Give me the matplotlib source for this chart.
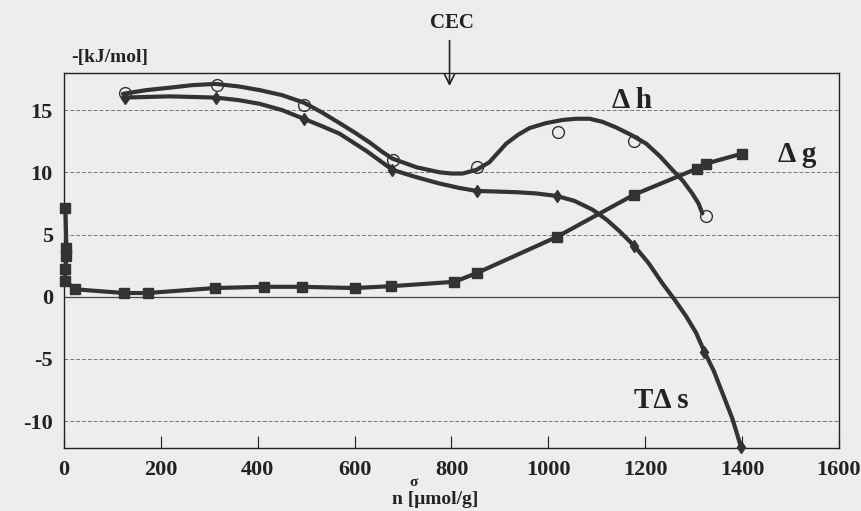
import numpy as np
import matplotlib.pyplot as plt

plt.rcParams['font.family'] = ['Liberation Serif', 'DejaVu Serif']
plt.rcParams['font.weight'] = 'bold'

# Delta h: measured points (open circles) and the drawn smooth curve
dh_x = [126, 315, 495, 679, 853, 1019, 1177, 1325]
dh_y = [16.4, 17.0, 15.4, 11.0, 10.4, 13.2, 12.5, 6.5]
dh_curve_x = [122, 170, 219, 265, 313, 360, 404, 450, 495, 533, 569, 600,
              631, 655, 678, 728, 775, 800, 823, 852, 878, 913, 937, 961,
              995, 1029, 1057, 1085, 1112, 1140, 1171, 1202, 1230, 1256,
              1278, 1297, 1310, 1318]
dh_curve_y = [16.3, 16.6, 16.8, 17.0, 17.1, 16.9, 16.6, 16.2, 15.6, 14.8,
              13.95, 13.2, 12.4, 11.7, 11.1, 10.4, 10.0, 9.9, 9.9, 10.2,
              10.8, 12.3, 13.0, 13.55, 13.95, 14.2, 14.3, 14.3, 14.05, 13.6,
              13.0, 12.3, 11.3, 10.2, 9.3, 8.3, 7.5, 6.7]

# T Delta s: points and curve
ts_x = [126, 313, 495, 678, 852, 1017, 1177, 1322, 1398]
ts_y = [16.0, 16.0, 14.3, 10.2, 8.5, 8.1, 4.1, -4.4, -12.1]
ts_curve_x = [122, 219, 313, 360, 404, 450, 495, 533, 569, 625, 678, 728,
              775, 815, 852, 895, 934, 975, 1017, 1054, 1091, 1120, 1146,
              1177, 1207, 1235, 1260, 1285, 1305, 1322, 1342, 1359, 1380,
              1398]
ts_curve_y = [16.0, 16.1, 16.0, 15.8, 15.5, 15.0, 14.3, 13.7, 13.1, 11.7,
              10.2, 9.6, 9.1, 8.75, 8.5, 8.45, 8.4, 8.3, 8.1, 7.7, 7.0,
              6.2, 5.3, 4.1, 2.7, 1.1, -0.2, -1.6, -2.9, -4.4, -6.0, -7.7,
              -9.8, -12.1]

# Delta g: filled squares
dg_x = [3, 5, 5, 3, 2, 23, 124, 173, 311, 412, 491, 600, 676, 806, 852,
        1017, 1177, 1307, 1326, 1400]
dg_y = [7.1, 3.9, 3.3, 2.2, 1.3, 0.6, 0.3, 0.3, 0.7, 0.8, 0.8, 0.7, 0.85,
        1.2, 1.9, 4.8, 8.2, 10.3, 10.7, 11.5]

x_ticks = [0, 200, 400, 600, 800, 1000, 1200, 1400, 1600]
y_ticks = [-10, -5, 0, 5, 10, 15]

ink = '#333333'
bg = '#ededed'

fig = plt.figure(figsize=(8.62, 5.11), dpi=100, facecolor=bg)
ax = fig.add_axes([0.0742, 0.1233, 0.8991, 0.7337])
ax.set_facecolor(bg)
ax.set_xlim(0, 1600)
ax.set_ylim(-12.15, 17.97)

# grid lines
for yv in y_ticks:
    if yv == 0:
        ax.axhline(0, color='#444444', lw=0.9, zorder=1)
    else:
        ax.axhline(yv, color='#777777', lw=0.7, ls=(0, (4, 2)), zorder=1)

ax.plot(dh_curve_x, dh_curve_y, color=ink, lw=3.0, solid_capstyle='round',
        solid_joinstyle='round', zorder=3)
ax.plot(dh_x, dh_y, 'o', ms=8.5, mfc='none', mec=ink, mew=1.0, zorder=4)

ax.plot(ts_curve_x, ts_curve_y, color=ink, lw=3.0, solid_capstyle='round',
        solid_joinstyle='round', zorder=3, clip_on=False)
ax.plot(ts_x, ts_y, 'd', ms=6, color=ink, zorder=4, clip_on=False)

ax.plot(dg_x, dg_y, '-s', color=ink, lw=3.0, ms=7.5, zorder=3,
        solid_joinstyle='round', clip_on=False)

for sp in ax.spines.values():
    sp.set_color('#222222')
    sp.set_linewidth(1.0)

ax.set_xticks(x_ticks)
ax.set_yticks(y_ticks)
ax.set_xticklabels([str(v) for v in x_ticks], fontsize=16, fontweight='bold')
ax.set_yticklabels([str(v) for v in y_ticks], fontsize=16, fontweight='bold')
ax.tick_params(axis='x', direction='in', length=9, width=0.8, pad=9,
               colors='#222222')
ax.tick_params(axis='y', length=0, pad=8, colors='#222222')

# labels
ax.text(16, 19.2, '-[kJ/mol]', fontsize=14, fontweight='bold', ha='left',
        va='center', color='#222222', clip_on=False)
ax.text(1173, 15.8, 'Δ h', fontsize=21, fontweight='bold', ha='center',
        va='center', color='#222222')
ax.text(1513, 11.4, 'Δ g', fontsize=21, fontweight='bold', ha='center',
        va='center', color='#222222')
ax.text(1233, -8.3, 'TΔ s', fontsize=21, fontweight='bold', ha='center',
        va='center', color='#222222')
ax.text(800, 22.0, 'CEC', fontsize=15, fontweight='bold', ha='center',
        va='center', color='#222222', clip_on=False)
ax.annotate('', xy=(796, 16.7), xytext=(796, 20.8),
            arrowprops=dict(arrowstyle='->', color='#222222', lw=1.2,
                            mutation_scale=18),
            annotation_clip=False)

fig.text(435 / 862, 1 - 500 / 511, 'n [μmol/g]', fontsize=14,
         fontweight='bold', ha='center', va='center', color='#222222')
fig.text(414 / 862, 1 - 482 / 511, 'σ', fontsize=11, fontweight='bold',
         ha='center', va='center', color='#222222')

fig.savefig('out.png', dpi=100, facecolor=bg)
